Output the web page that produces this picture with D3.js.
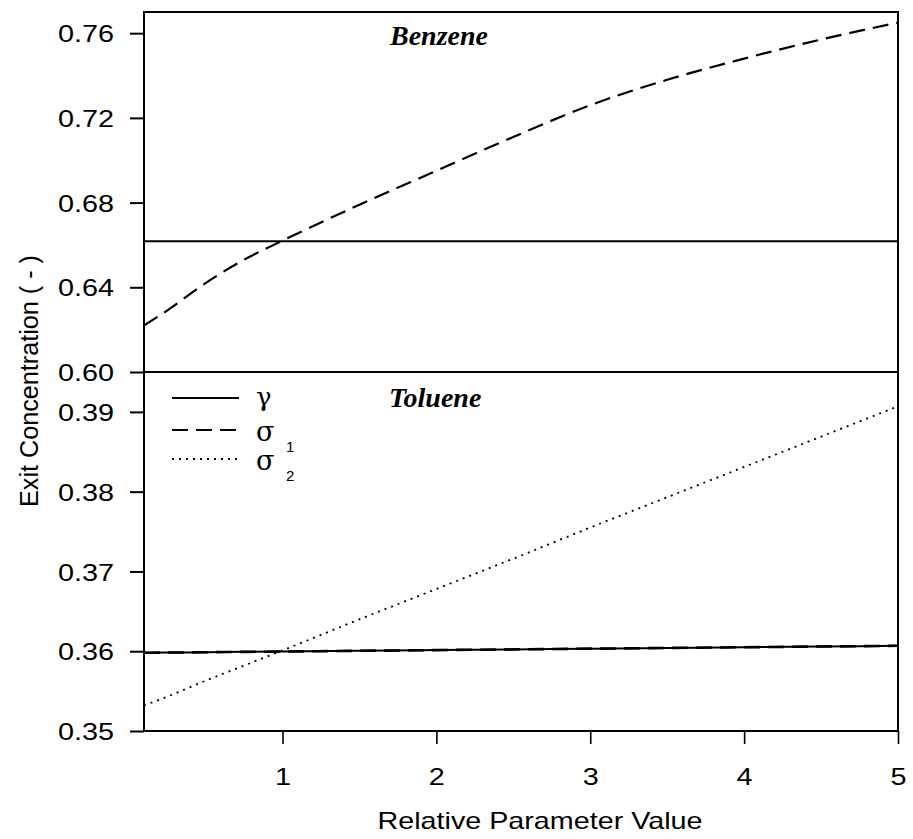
<!DOCTYPE html>
<html>
<head>
<meta charset="utf-8">
<script src="https://cdn.jsdelivr.net/npm/d3@7"></script>
<style>
  body { margin: 0; background: #fff; }
  svg { display: block; }
  text { font-family: "Liberation Sans", Arial, Helvetica, sans-serif; fill: #000; }
</style>
</head>
<body>
<svg id="chart" width="913" height="839"></svg>
<script>
// ---- data ----
const xValues = [0.1, 0.25, 0.5, 0.75, 1, 1.5, 2, 2.5, 3, 3.5, 4, 4.5, 5];
const benzeneGamma  = [0.6618, 0.6618, 0.6618, 0.6618, 0.6618, 0.6618, 0.6618, 0.6618, 0.6618, 0.6618, 0.6618, 0.6618, 0.6618];
const benzeneSigma1 = [0.622, 0.629, 0.642, 0.653, 0.662, 0.679, 0.695, 0.711, 0.726, 0.738, 0.748, 0.757, 0.765];
const tolueneGamma  = [0.35980, 0.35983, 0.35987, 0.35992, 0.35996, 0.36005, 0.36014, 0.36023, 0.36032, 0.36041, 0.36050, 0.36059, 0.36068];
const tolueneSigma1 = [0.35980, 0.35983, 0.35987, 0.35992, 0.35996, 0.36005, 0.36014, 0.36023, 0.36032, 0.36041, 0.36050, 0.36059, 0.36068];
const tolueneSigma2 = [0.3532, 0.3543, 0.3563, 0.3582, 0.3601, 0.3640, 0.3678, 0.3716, 0.3755, 0.3793, 0.3831, 0.3869, 0.3907];
const xTicks = [1, 2, 3, 4, 5];
const benzeneTicks = [0.60, 0.64, 0.68, 0.72, 0.76];
const tolueneTicks = [0.35, 0.36, 0.37, 0.38, 0.39];
const panelLabels = ["Benzene", "Toluene"];
const xTitle = "Relative Parameter Value";
const yTitle = "Exit  Concentration ( - )";

// ---- layout ----
const L = 144, R = 898, T = 12, MID = 372, B = 731;
const svg = d3.select("#chart");

const x = d3.scaleLinear().domain([0.1, 5]).range([L, R]);
const yTop = d3.scaleLinear().domain([0.60, 0.77]).range([MID, T]);
const yBot = d3.scaleLinear().domain([0.35, 0.395]).range([B, MID]);

function stretch(sel, f) {
  sel.each(function () {
    const w = this.getComputedTextLength();
    d3.select(this).attr("textLength", w * f).attr("lengthAdjust", "spacingAndGlyphs");
  });
}

// y axes
function yAxis(scale, ticks, fmt) {
  const g = svg.append("g").attr("transform", `translate(${L},0)`)
    .call(d3.axisLeft(scale).tickValues(ticks).tickFormat(d3.format(fmt)).tickSize(14).tickPadding(16));
  g.select(".domain").remove();
  g.selectAll(".tick line").attr("stroke", "#000").attr("stroke-width", 2);
  g.selectAll(".tick text").attr("font-size", 24).attr("dy", "0.36em")
    .style("font-family", '"Liberation Sans", Arial, sans-serif');
  stretch(g.selectAll(".tick text"), 1.2);
  return g;
}
yAxis(yTop, benzeneTicks, ".2f");
yAxis(yBot, tolueneTicks, ".2f");

// x axis
const gx = svg.append("g").attr("transform", `translate(0,${B})`)
  .call(d3.axisBottom(x).tickValues(xTicks).tickFormat(d3.format("d")).tickSize(13).tickPadding(24));
gx.select(".domain").remove();
gx.selectAll(".tick line").attr("stroke", "#000").attr("stroke-width", 1.6);
gx.selectAll(".tick text").attr("font-size", 24)
  .style("font-family", '"Liberation Sans", Arial, sans-serif');
stretch(gx.selectAll(".tick text"), 1.2);

// frame
svg.append("rect").attr("x", L).attr("y", T).attr("width", R - L).attr("height", B - T)
  .attr("fill", "none").attr("stroke", "#000").attr("stroke-width", 2);
svg.append("line").attr("x1", L).attr("x2", R).attr("y1", MID).attr("y2", MID)
  .attr("stroke", "#000").attr("stroke-width", 2);

// lines
function drawLine(vals, yScale, dash, width) {
  const line = d3.line().x((d, i) => x(xValues[i])).y(d => yScale(d)).curve(d3.curveMonotoneX);
  svg.append("path").datum(vals).attr("d", line)
    .attr("fill", "none").attr("stroke", "#000").attr("stroke-width", width)
    .attr("stroke-dasharray", dash);
}
drawLine(benzeneGamma, yTop, null, 2);
drawLine(benzeneSigma1, yTop, "16,8", 2.2);
drawLine(tolueneGamma, yBot, null, 2);
drawLine(tolueneSigma1, yBot, "16,8", 2.6);
drawLine(tolueneSigma2, yBot, "2,5", 1.8);

// panel labels
svg.append("text").attr("x", 390).attr("y", 45).text(panelLabels[0])
  .style("font-family", '"Liberation Serif", "Times New Roman", serif')
  .attr("font-weight", "bold").attr("font-style", "italic").attr("font-size", 28);
svg.append("text").attr("x", 389).attr("y", 407).text(panelLabels[1])
  .style("font-family", '"Liberation Serif", "Times New Roman", serif')
  .attr("font-weight", "bold").attr("font-style", "italic").attr("font-size", 28);

// legend
const leg = [
  { y: 398, dash: null, sym: "γ", sub: "", sz: 26, dy: 8 },
  { y: 430, dash: "16,8", sym: "σ", sub: "1", sz: 27, dy: 11 },
  { y: 459, dash: "2,5", sym: "σ", sub: "2", sz: 27, dy: 11 }
];
leg.forEach(d => {
  svg.append("line").attr("x1", 172).attr("x2", 239).attr("y1", d.y).attr("y2", d.y)
    .attr("stroke", "#000").attr("stroke-width", d.dash === "2,5" ? 1.8 : 2)
    .attr("stroke-dasharray", d.dash);
  svg.append("text").attr("x", 256).attr("y", d.y + d.dy).text(d.sym)
    .style("font-family", '"DejaVu Serif", "Liberation Serif", serif')
    .attr("font-size", d.sz);
  if (d.sub) {
    svg.append("text").attr("x", 286).attr("y", d.y + 22).text(d.sub)
      .attr("font-size", 15);
  }
});

// axis titles
const xt = svg.append("text").attr("x", 540).attr("y", 829).attr("text-anchor", "middle")
  .attr("font-size", 24).text(xTitle);
xt.attr("textLength", 325).attr("lengthAdjust", "spacingAndGlyphs");

const yt = svg.append("text").attr("transform", "translate(38,381) rotate(-90)")
  .attr("text-anchor", "middle").attr("font-size", 25).text(yTitle);
yt.attr("textLength", 252).attr("lengthAdjust", "spacingAndGlyphs");
</script>
</body>
</html>
